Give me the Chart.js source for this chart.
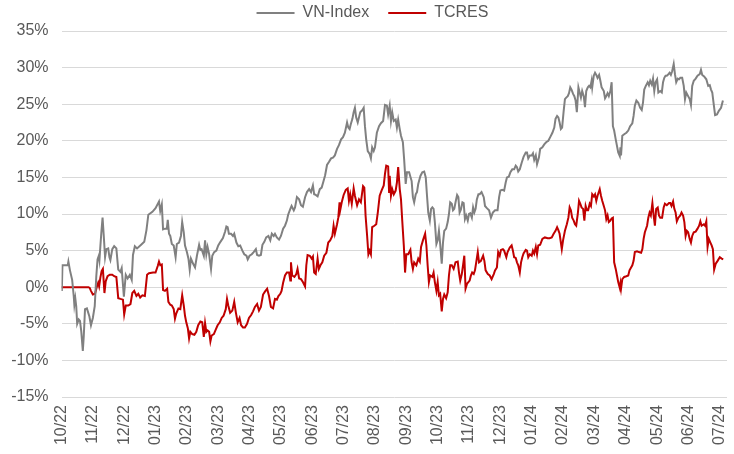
<!DOCTYPE html>
<html><head><meta charset="utf-8">
<script src="https://cdn.jsdelivr.net/npm/chart.js@4.4.1/dist/chart.umd.min.js"></script>
<style>html,body{margin:0;padding:0;background:#fff;}#wrap{width:734px;height:454px;position:relative;}</style>
</head><body><div id="wrap"><canvas id="c" width="734" height="454"></canvas></div>
<script>
const monthLabels = ['10/22','11/22','12/22','01/23','02/23','03/23','04/23','05/23','06/23','07/23','08/23','09/23','10/23','11/23','12/23','01/24','02/24','03/24','04/24','05/24','06/24','07/24'];

// VN-Index: x = months since start of 10/22, y = % return
const vnMonths = [0.00,0.01,0.03,0.20,0.22,0.27,0.34,0.39,0.41,0.44,0.47,0.50,0.55,0.59,0.63,0.68,0.71,0.75,0.81,0.89,0.94,1.00,1.06,1.11,1.15,1.19,1.21,1.24,1.27,1.31,1.35,1.39,1.43,1.49,1.53,1.56,1.62,1.68,1.75,1.81,1.88,1.92,1.99,2.05,2.11,2.18,2.24,2.28,2.34,2.41,2.54,2.64,2.71,2.77,2.90,3.00,3.11,3.15,3.20,3.24,3.30,3.36,3.39,3.43,3.47,3.52,3.58,3.64,3.68,3.75,3.81,3.85,3.90,3.94,4.00,4.05,4.09,4.13,4.20,4.26,4.32,4.39,4.43,4.47,4.54,4.58,4.62,4.66,4.71,4.77,4.81,4.87,4.94,5.00,5.07,5.15,5.22,5.26,5.30,5.34,5.41,5.47,5.51,5.58,5.64,5.70,5.77,5.83,5.90,5.94,6.00,6.07,6.13,6.20,6.24,6.30,6.36,6.41,6.47,6.53,6.60,6.66,6.71,6.77,6.81,6.87,6.94,7.00,7.07,7.13,7.19,7.23,7.30,7.34,7.41,7.45,7.51,7.58,7.64,7.70,7.77,7.83,7.90,7.96,8.02,8.06,8.11,8.17,8.24,8.30,8.36,8.41,8.47,8.53,8.60,8.66,8.72,8.79,8.85,8.92,8.98,9.04,9.11,9.15,9.19,9.23,9.28,9.32,9.36,9.40,9.45,9.49,9.53,9.60,9.64,9.68,9.72,9.77,9.83,9.87,9.91,9.96,10.00,10.06,10.13,10.19,10.26,10.32,10.38,10.42,10.47,10.51,10.55,10.60,10.66,10.70,10.74,10.79,10.83,10.89,10.93,10.98,11.02,11.09,11.13,11.17,11.21,11.25,11.30,11.34,11.38,11.45,11.51,11.57,11.62,11.66,11.70,11.75,11.79,11.83,11.87,11.91,11.96,12.00,12.04,12.08,12.13,12.17,12.21,12.27,12.32,12.36,12.40,12.45,12.49,12.53,12.57,12.62,12.66,12.70,12.74,12.79,12.83,12.87,12.91,12.96,13.00,13.04,13.09,13.13,13.17,13.21,13.25,13.30,13.34,13.40,13.47,13.51,13.57,13.64,13.70,13.76,13.83,13.91,13.96,14.00,14.06,14.12,14.17,14.21,14.27,14.32,14.38,14.44,14.49,14.53,14.57,14.62,14.68,14.74,14.81,14.85,14.89,14.94,15.00,15.04,15.08,15.13,15.17,15.23,15.27,15.34,15.40,15.46,15.53,15.59,15.66,15.72,15.76,15.81,15.85,15.89,15.93,15.97,16.02,16.06,16.10,16.15,16.19,16.23,16.27,16.32,16.36,16.40,16.44,16.49,16.53,16.57,16.61,16.66,16.70,16.74,16.79,16.83,16.87,16.91,16.93,16.98,17.02,17.06,17.10,17.15,17.19,17.23,17.30,17.34,17.38,17.42,17.46,17.51,17.55,17.59,17.63,17.68,17.72,17.76,17.81,17.83,17.85,17.89,17.95,18.02,18.08,18.14,18.21,18.25,18.29,18.34,18.40,18.46,18.51,18.55,18.59,18.64,18.70,18.74,18.78,18.83,18.87,18.91,18.95,19.00,19.04,19.10,19.15,19.19,19.23,19.27,19.31,19.36,19.40,19.44,19.48,19.53,19.57,19.61,19.66,19.70,19.74,19.80,19.85,19.89,19.93,19.99,20.04,20.08,20.12,20.17,20.23,20.29,20.36,20.40,20.44,20.50,20.57,20.63,20.68,20.72,20.76,20.80,20.85,20.91,20.97,21.04,21.10];
const vnValues = [0.0,-0.5,3.0,3.0,3.5,2.3,1.0,-1.2,-2.4,-1.5,-2.6,-5.0,-4.4,-4.6,-6.0,-8.7,-6.7,-3.0,-2.9,-4.0,-5.2,-4.2,-2.6,1.5,3.8,4.3,3.7,5.6,7.4,9.5,6.9,4.1,5.2,5.3,4.1,3.7,5.2,5.6,5.3,2.4,2.1,2.6,-1.3,1.7,1.2,1.7,1.0,4.4,5.6,5.3,5.8,6.2,7.8,9.9,10.3,10.8,11.7,10.4,11.3,7.9,8.0,8.0,9.2,7.3,7.0,5.9,5.7,4.1,5.9,6.1,7.0,8.9,7.5,5.7,4.8,3.9,2.4,3.9,3.2,2.7,4.3,5.8,5.1,5.2,4.3,6.4,4.5,5.5,4.5,2.5,4.3,4.8,5.0,5.7,6.2,6.7,7.6,8.3,8.2,7.3,7.3,7.0,7.3,6.1,5.6,5.7,5.0,4.5,4.3,3.8,4.3,4.5,4.8,5.2,4.4,4.3,4.4,5.8,6.2,6.8,7.0,6.4,7.3,7.0,7.3,6.8,6.5,7.0,8.0,8.4,9.1,9.9,10.7,11.1,10.5,10.9,12.3,12.0,11.2,11.0,12.3,13.0,13.4,13.0,13.9,12.7,12.6,12.4,13.4,13.6,14.5,15.3,16.7,17.1,17.6,17.7,18.0,18.9,19.4,20.2,20.5,21.1,22.5,21.8,21.6,22.3,23.0,23.9,24.5,23.2,22.5,23.2,23.9,24.2,24.5,22.0,20.2,18.6,18.2,17.6,19.1,18.6,19.1,21.1,22.0,22.4,22.7,24.9,24.8,23.6,24.8,22.7,23.9,22.7,22.9,21.8,22.9,21.6,20.7,19.8,17.5,14.1,15.7,15.7,15.1,14.5,12.3,11.6,12.7,13.0,14.1,15.2,15.7,15.8,15.0,12.5,10.2,9.1,10.7,10.9,10.7,8.9,5.9,6.4,7.7,5.9,3.2,6.1,7.7,8.0,8.9,10.0,11.6,11.4,10.5,10.7,11.6,12.6,12.3,10.2,10.6,11.6,11.5,9.3,9.8,9.1,10.0,10.1,9.5,10.9,10.2,10.7,12.0,12.7,12.7,13.0,12.3,11.1,10.8,10.5,9.5,10.2,10.5,10.5,12.3,13.2,13.3,13.2,14.3,15.0,15.1,15.7,16.1,16.1,16.6,16.4,15.8,16.1,17.0,17.8,18.4,18.4,17.6,18.0,18.0,18.3,17.4,18.0,16.8,17.7,18.9,19.1,19.5,19.8,20.0,20.5,21.1,21.8,23.0,23.4,23.2,22.5,21.6,21.8,24.1,25.7,25.9,26.1,26.5,27.3,27.0,26.4,26.1,25.5,23.9,27.3,26.6,25.9,26.8,26.1,24.6,26.8,27.3,27.5,27.3,28.2,27.3,28.9,29.3,29.0,28.6,29.0,28.2,27.3,26.8,25.8,26.1,26.5,26.1,26.8,28.0,22.0,21.4,20.2,19.3,18.4,17.9,19.1,18.0,20.7,20.9,21.1,21.4,22.0,22.4,23.4,24.8,25.5,25.2,24.5,24.2,25.2,27.0,27.5,28.0,27.6,28.2,27.7,28.5,26.8,28.0,28.4,26.6,26.8,26.6,28.0,28.6,28.9,28.9,29.1,29.3,29.0,29.5,30.5,29.1,28.0,28.5,28.4,28.6,28.6,27.5,25.7,26.6,26.1,25.7,24.9,27.5,28.2,28.5,28.9,29.1,29.7,29.0,28.8,28.4,27.5,27.6,27.0,26.6,25.2,23.5,23.6,24.1,24.5,25.5];

// TCRES
const tcMonths = [0.00,0.86,0.90,0.94,1.00,1.07,1.13,1.17,1.20,1.24,1.28,1.32,1.37,1.41,1.47,1.54,1.62,1.68,1.75,1.81,1.88,1.96,2.00,2.05,2.13,2.20,2.26,2.32,2.39,2.45,2.51,2.58,2.66,2.73,2.79,2.92,3.00,3.07,3.11,3.15,3.20,3.24,3.30,3.37,3.41,3.47,3.52,3.58,3.62,3.66,3.73,3.79,3.85,3.90,3.94,3.98,4.03,4.07,4.11,4.17,4.24,4.30,4.36,4.43,4.49,4.54,4.58,4.62,4.66,4.71,4.75,4.79,4.86,4.92,4.98,5.05,5.11,5.17,5.24,5.28,5.32,5.38,5.45,5.51,5.56,5.62,5.68,5.73,5.79,5.85,5.92,5.98,6.05,6.11,6.17,6.24,6.30,6.36,6.43,6.49,6.56,6.62,6.68,6.75,6.81,6.87,6.92,6.98,7.02,7.07,7.13,7.19,7.26,7.30,7.32,7.36,7.43,7.49,7.53,7.58,7.64,7.70,7.77,7.81,7.85,7.92,7.98,8.02,8.06,8.11,8.17,8.21,8.26,8.32,8.38,8.45,8.51,8.57,8.64,8.68,8.72,8.79,8.83,8.87,8.89,8.94,9.00,9.07,9.13,9.17,9.21,9.26,9.32,9.36,9.43,9.49,9.55,9.62,9.66,9.70,9.75,9.79,9.83,9.87,9.91,9.98,10.04,10.09,10.15,10.21,10.28,10.32,10.36,10.42,10.45,10.47,10.51,10.55,10.60,10.66,10.70,10.74,10.79,10.83,10.87,10.92,10.96,11.00,11.06,11.13,11.17,11.21,11.25,11.32,11.38,11.43,11.47,11.53,11.60,11.64,11.68,11.72,11.76,11.83,11.87,11.91,11.96,12.00,12.04,12.08,12.13,12.17,12.21,12.27,12.32,12.36,12.40,12.45,12.51,12.57,12.64,12.68,12.72,12.77,12.81,12.85,12.89,12.94,12.98,13.02,13.06,13.10,13.15,13.19,13.23,13.28,13.32,13.38,13.45,13.49,13.53,13.60,13.66,13.72,13.79,13.83,13.89,13.93,13.98,14.02,14.08,14.12,14.19,14.23,14.30,14.36,14.40,14.44,14.49,14.53,14.57,14.62,14.66,14.70,14.74,14.81,14.85,14.89,14.94,15.00,15.04,15.08,15.13,15.17,15.21,15.27,15.34,15.42,15.51,15.57,15.64,15.70,15.76,15.81,15.85,15.89,15.96,16.00,16.06,16.12,16.17,16.21,16.25,16.29,16.34,16.38,16.42,16.47,16.51,16.55,16.59,16.64,16.68,16.72,16.76,16.80,16.85,16.89,16.93,16.98,17.02,17.06,17.10,17.17,17.21,17.25,17.30,17.34,17.38,17.42,17.46,17.51,17.55,17.59,17.63,17.68,17.72,17.76,17.81,17.83,17.85,17.89,17.95,18.02,18.08,18.12,18.17,18.21,18.25,18.29,18.36,18.42,18.49,18.53,18.57,18.61,18.68,18.72,18.76,18.80,18.85,18.89,18.93,18.97,19.02,19.06,19.10,19.16,19.21,19.25,19.31,19.38,19.42,19.46,19.51,19.55,19.59,19.63,19.68,19.74,19.78,19.83,19.87,19.91,19.95,19.99,20.04,20.08,20.12,20.17,20.23,20.29,20.34,20.38,20.42,20.49,20.53,20.57,20.61,20.65,20.70,20.74,20.78,20.82,20.87,20.93,21.00,21.06,21.11];
const tcValues = [0.0,0.0,-0.1,-0.5,-1.0,-0.9,0.1,0.6,0.1,1.3,2.2,2.5,-0.8,0.8,1.5,1.7,1.7,1.5,1.4,-1.5,-1.6,-1.7,-3.7,-2.5,-2.5,-2.3,-0.8,-0.5,-1.2,-0.9,-1.4,-1.1,-1.2,1.7,1.9,2.0,2.0,2.9,3.5,3.0,3.1,-0.4,-0.5,-0.2,-2.0,-2.4,-2.5,-3.0,-4.3,-3.6,-2.9,-3.0,-1.1,-2.5,-3.9,-4.8,-5.6,-7.0,-6.1,-6.4,-6.5,-6.1,-5.2,-4.7,-4.8,-6.8,-4.9,-6.1,-5.9,-6.1,-7.4,-6.6,-6.4,-5.8,-5.2,-4.8,-4.2,-3.9,-3.0,-1.6,-2.5,-3.5,-3.2,-2.0,-3.4,-4.8,-4.2,-5.2,-5.5,-5.5,-5.0,-4.2,-3.8,-3.3,-2.7,-2.3,-3.2,-2.7,-1.0,-0.6,-0.2,-1.2,-2.7,-2.9,-1.6,-1.7,-1.2,-0.9,-0.5,0.6,1.6,2.0,2.0,0.9,3.4,1.6,1.4,1.8,2.5,1.2,1.1,0.7,0.1,3.0,4.4,4.3,3.9,4.2,2.0,1.8,3.9,2.5,3.0,3.4,4.3,4.7,6.1,6.4,7.0,8.4,7.3,8.6,9.5,11.6,10.5,11.6,12.6,13.3,13.5,11.8,12.7,11.4,13.5,12.5,11.2,12.0,11.6,13.8,13.6,9.8,7.0,4.5,5.0,4.5,8.2,8.4,8.6,10.2,12.5,13.2,13.9,15.5,16.6,16.5,13.0,15.2,12.5,13.4,12.7,13.2,14.3,16.4,13.4,12.0,9.1,5.7,2.0,4.5,4.5,5.1,3.4,2.5,3.4,3.0,3.9,3.5,5.5,6.4,7.3,5.7,3.0,0.7,1.6,1.4,2.0,0.7,-0.5,0.7,-1.1,-0.9,-3.3,-1.6,-1.0,-1.5,-0.7,1.6,3.0,3.0,2.5,3.4,3.5,2.0,0.9,1.8,3.0,4.3,-0.2,0.5,0.7,0.9,1.6,2.0,1.8,2.3,3.4,4.8,3.4,3.6,4.3,3.6,2.3,1.8,1.6,1.1,1.8,2.3,2.7,4.8,4.3,5.1,5.2,5.0,4.1,4.8,5.4,5.7,5.0,4.1,4.0,3.4,3.0,2.0,3.4,4.1,4.6,5.1,5.0,4.1,4.5,4.3,5.0,4.6,5.5,4.5,5.7,5.8,6.6,6.8,6.7,6.7,6.8,7.3,7.7,8.2,7.8,7.3,5.2,6.4,7.7,8.6,9.5,10.9,10.5,9.5,9.1,8.6,8.4,10.0,11.8,11.4,10.9,10.7,9.1,11.1,10.5,10.5,11.4,11.1,12.7,12.4,12.7,11.8,12.5,13.4,12.5,11.8,11.1,10.5,9.3,9.8,8.9,9.1,9.4,9.5,3.4,2.5,1.6,0.7,-0.1,0.5,-0.2,1.1,1.4,1.5,1.6,2.3,2.7,3.0,3.6,4.8,4.9,4.8,4.7,5.2,6.6,7.5,8.4,9.5,10.2,9.8,11.5,9.8,8.4,10.7,10.9,9.8,9.5,9.5,10.9,11.4,11.2,11.5,11.5,11.1,11.7,10.7,10.2,9.0,9.5,9.8,10.2,9.8,8.9,7.0,7.7,7.5,6.6,6.1,7.0,7.5,7.6,8.0,8.4,9.0,8.4,8.6,8.4,9.0,5.5,6.6,6.1,5.7,5.2,2.4,3.2,3.6,4.1,3.9,3.8];

const FONT = '"Liberation Sans", Arial, sans-serif';
const TXT = '#595959';

// nudges the centred legend row a few pixels right, as in the reference
const legendNudge = {
  id: 'legendNudge',
  afterLayout(chart) { if (chart.legend) { chart.legend.left += 3; chart.legend.right += 3; } }
};

new Chart(document.getElementById('c'), {
  type: 'line',
  data: {
    datasets: [
      { label: 'VN-Index', data: vnMonths.map((m, i) => ({ x: m, y: vnValues[i] })),
        borderColor: '#808080', backgroundColor: '#808080', borderWidth: 2, pointRadius: 0, tension: 0 },
      { label: 'TCRES', data: tcMonths.map((m, i) => ({ x: m, y: tcValues[i] })),
        borderColor: '#c00000', backgroundColor: '#c00000', borderWidth: 2, pointRadius: 0, tension: 0 }
    ]
  },
  plugins: [legendNudge],
  options: {
    responsive: false,
    animation: false,
    layout: { padding: { top: -14, left: 12, right: 7, bottom: 0 } },
    plugins: {
      legend: {
        position: 'top',
        labels: { usePointStyle: true, pointStyle: 'line', pointStyleWidth: 38, padding: 19,
                  color: TXT, font: { family: FONT, size: 16 } }
      },
      tooltip: { enabled: false }
    },
    scales: {
      x: {
        type: 'linear', min: 0, max: 21.23,
        afterFit(s) { s.height = 57; s.paddingLeft = 0; s.paddingRight = 0; },
        afterBuildTicks(s) { s.ticks = monthLabels.map((l, i) => ({ value: i })); },
        ticks: { autoSkip: false, maxRotation: 90, minRotation: 90, padding: 8, color: TXT,
                 font: { family: FONT, size: 16 }, callback: v => monthLabels[v] },
        grid: { display: false, drawTicks: false },
        border: { display: false }
      },
      y: {
        min: -15, max: 35,
        afterFit(s) { s.width = 49.5; s.paddingTop = 0; s.paddingBottom = 0; },
        ticks: { stepSize: 5, padding: 13, color: TXT, font: { family: FONT, size: 16 }, callback: v => v + '%' },
        grid: { color: '#d9d9d9', lineWidth: 1, drawTicks: false },
        border: { display: false }
      }
    }
  }
});
</script></body></html>
